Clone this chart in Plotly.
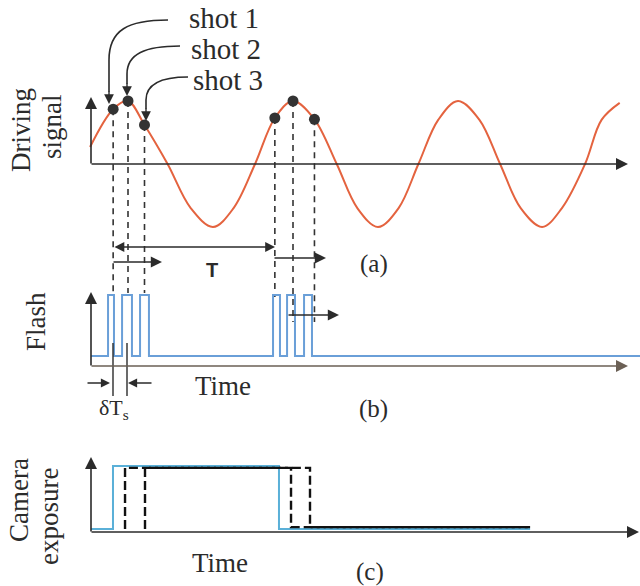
import plotly.graph_objects as go

# ---------------- data (time in units of the driving period T) ----------------
sig_t = [0.02, 0.16, 0.25, 0.35, 0.49, 0.63, 0.765, 0.89, 1.02, 1.14, 1.25, 1.38, 1.515, 1.64,
         1.765, 1.89, 2.01, 2.13, 2.25, 2.38, 2.505, 2.63, 2.76, 2.88, 3.02, 3.12, 3.23]
sig_v = [0.27, 0.87, 1.0, 0.62, 0.0, -0.7, -1.0, -0.7, 0.0, 0.73, 1.0, 0.71, 0.0, -0.7,
         -1.0, -0.7, 0.0, 0.7, 1.0, 0.7, 0.0, -0.7, -1.0, -0.7, 0.0, 0.7, 0.97]

shot_t = [0.16, 0.25, 0.35, 1.14, 1.25, 1.38]
shot_v = [0.87, 1.0, 0.62, 0.73, 1.0, 0.71]
shot_names = ["shot 1", "shot 2", "shot 3"]

flash_on = [0.129, 0.214, 0.323, 1.129, 1.214, 1.317]
flash_off = [0.165, 0.274, 0.377, 1.171, 1.262, 1.365]

cam_t = [0.026, 0.159, 0.159, 1.165, 1.165, 2.687]
cam_v = [0.0, 0.0, 1.0, 1.0, 0.0, 0.0]
exp1_t = [0.232, 0.232, 1.238, 1.238, 2.687]
exp1_v = [0.0, 0.97, 0.97, 0.03, 0.03]
exp2_t = [0.353, 0.353, 1.353, 1.353, 2.687]
exp2_v = [0.0, 0.97, 0.97, 0.03, 0.03]

axis_t0 = 0.026          # time where the vertical axes stand
flash_end_t = 3.36       # flash baseline runs to the right edge

# ---------------- layout helpers (pixel geometry of the figure) ----------------
W, H = 640, 586
T0, PPT = 86.75, 165.0


def tx(px):
    return (px - T0) / PPT


def pa(py):
    return (164 - py) / 63.0


def pb(py):
    return (356 - py) / 61.0


def pc(py):
    return (529 - py) / 63.0


def X(px):
    return px / W


def Y(py):
    return 1 - py / H


SERIF = "Liberation Serif, Times New Roman, serif"
INK = "#2b2b2b"
RED = "#e4633f"
BLUE = "#6a9fd8"
CYAN = "#5ab0d8"

fig = go.Figure()

# driving signal
fig.add_trace(go.Scatter(x=sig_t, y=sig_v, mode="lines", yaxis="y",
                         line=dict(color=RED, width=2, shape="spline", smoothing=1.0),
                         hoverinfo="skip", showlegend=False))

# drop lines from shots
drop_bottom = [293, 293, 293, 297, 322, 322]
for t, v, b in zip(shot_t, shot_v, drop_bottom):
    fig.add_trace(go.Scatter(x=[t, t], y=[v, pa(b)], mode="lines", yaxis="y",
                             line=dict(color="#333333", width=1.6, dash="6px,5px"),
                             hoverinfo="skip", showlegend=False))

# shot dots
fig.add_trace(go.Scatter(x=shot_t, y=shot_v, mode="markers", yaxis="y",
                         marker=dict(size=11, color="#333333"),
                         hoverinfo="skip", showlegend=False))

# flash pulses
fx, fy = [axis_t0], [0.0]
for s, e in zip(flash_on, flash_off):
    fx += [s, s, e, e]
    fy += [0.0, 1.0, 1.0, 0.0]
fx.append(flash_end_t)
fy.append(0.0)
fig.add_trace(go.Scatter(x=fx, y=fy, mode="lines", yaxis="y2",
                         line=dict(color=BLUE, width=2),
                         hoverinfo="skip", showlegend=False))

# camera exposure
fig.add_trace(go.Scatter(x=cam_t, y=cam_v, mode="lines", yaxis="y3",
                         line=dict(color=CYAN, width=2),
                         hoverinfo="skip", showlegend=False))
for ex, ey in [(exp1_t, exp1_v), (exp2_t, exp2_v)]:
    fig.add_trace(go.Scatter(x=ex, y=ey, mode="lines", yaxis="y3",
                             line=dict(color="#111111", width=2.4, dash="9px,4px"),
                             hoverinfo="skip", showlegend=False))

annotations = []


def arrow(hx, hy, tx_, ty_, color=INK, width=1.6, size=1.5, side="end"):
    annotations.append(dict(xref="paper", yref="paper", x=X(hx), y=Y(hy),
                            ax=tx_ - hx, ay=ty_ - hy, text="", showarrow=True,
                            arrowhead=2, arrowsize=size, arrowwidth=width,
                            arrowcolor=color, arrowside=side, standoff=0, startstandoff=0))


def label(text, px, py, size=27, angle=0, family=SERIF, color=INK):
    annotations.append(dict(xref="paper", yref="paper", x=X(px), y=Y(py), text=text,
                            showarrow=False, xanchor="center", yanchor="middle",
                            textangle=angle, font=dict(family=family, size=size, color=color)))


# axes with arrowheads
arrow(91, 97, 91, 165)
arrow(628, 164, 90, 164)
arrow(91, 292, 91, 367)
arrow(628, 366, 90, 366, color="#6b6055")
arrow(91, 457, 91, 533)
arrow(639, 532, 90, 532)

# period / shift arrows
arrow(275, 247, 113, 247, width=1.4, size=1.4, side="end+start")
arrow(162, 262, 112, 262, width=1.4, size=1.6)
arrow(326, 258, 273, 258, width=1.4, size=1.6)
arrow(339, 315, 287, 315, width=1.4, size=1.6)
arrow(110, 383, 86, 383, width=1.4, size=1.3)
arrow(128, 383, 153, 383, width=1.4, size=1.3)

# callout arrowheads
arrow(109, 104, 109, 90, width=1.4, size=1.4)
arrow(127, 96, 127, 82, width=1.4, size=1.4)
arrow(146, 121, 146, 107, width=1.4, size=1.4)

# texts
for name, py, px in zip(shot_names, [18, 49, 80], [224, 226, 228]):
    label(name, px, py, size=29)
label("Driving", 21, 130, angle=-90)
label("signal", 52, 127, angle=-90)
label("Flash", 36, 322, angle=-90)
label("Camera", 19, 500, angle=-90)
label("exposure", 49, 517, angle=-90)
label("Time", 223, 386)
label("Time", 220, 563)
label("(a)", 374, 264, size=25)
label("(b)", 373, 409, size=25)
label("(c)", 370, 572, size=25)
label("<b>T</b>", 212, 270, size=20, family="Liberation Sans, Arial, sans-serif")
label("δT<sub>s</sub>", 114, 409, size=22)

shapes = []


def path_shape(d):
    shapes.append(dict(type="path", xref="paper", yref="paper", path=d,
                       line=dict(color=INK, width=1.6)))


def P(px, py):
    return f"{X(px):.5f},{Y(py):.5f}"


path_shape(f"M {P(168, 20)} C {P(128, 20)} {P(109, 30)} {P(109, 60)} L {P(109, 92)}")
path_shape(f"M {P(180, 46)} C {P(145, 46)} {P(127, 54)} {P(127, 74)} L {P(127, 84)}")
path_shape(f"M {P(188, 77)} C {P(162, 77)} {P(146, 84)} {P(146, 100)} L {P(146, 109)}")

# δTs vertical markers
for px in [113, 127]:
    shapes.append(dict(type="line", xref="paper", yref="paper", x0=X(px), x1=X(px),
                       y0=Y(343), y1=Y(396), line=dict(color=INK, width=1.4)))

fig.update_layout(
    width=W, height=H,
    margin=dict(l=0, r=0, t=0, b=0),
    paper_bgcolor="white", plot_bgcolor="rgba(0,0,0,0)",
    xaxis=dict(range=[tx(0), tx(W)], visible=False, domain=[0, 1], fixedrange=True),
    yaxis=dict(range=[pa(H), pa(0)], visible=False, domain=[0, 1], fixedrange=True),
    yaxis2=dict(range=[pb(H), pb(0)], visible=False, domain=[0, 1], anchor="x",
                overlaying="y", fixedrange=True),
    yaxis3=dict(range=[pc(H), pc(0)], visible=False, domain=[0, 1], anchor="x",
                overlaying="y", fixedrange=True),
    annotations=annotations,
    shapes=shapes,
    showlegend=False,
)

fig.write_html("out.html", config={"displayModeBar": False},
               post_script="document.body.style.margin='0';document.body.style.overflow='hidden';")
